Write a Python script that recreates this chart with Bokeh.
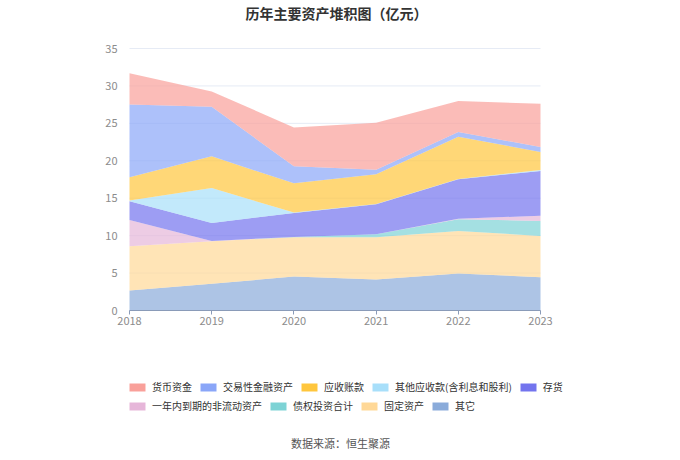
from bokeh.plotting import figure
from bokeh.models import ColumnDataSource, Legend, LegendItem, FixedTicker, Range1d, Label
from bokeh.embed import file_html
from bokeh.resources import INLINE

years = [2018, 2019, 2020, 2021, 2022, 2023]
y_ticks = [0, 5, 10, 15, 20, 25, 30, 35]
names = ["货币资金", "交易性金融资产", "应收账款", "其他应收款(含利息和股利)", "存货",
         "一年内到期的非流动资产", "债权投资合计", "固定资产", "其它"]
colors = ["#F9A09A", "#8AA6F8", "#FFC63D", "#A8DFFA", "#7374EE",
          "#E6B6D9", "#7DD3D5", "#FFD897", "#8AABDA"]

huobi = [4.18, 2.04, 5.20, 6.27, 4.13, 5.78]
jiaoyi = [9.74, 6.63, 2.27, 0.62, 0.63, 0.67]
yingshou = [3.10, 4.22, 3.91, 3.95, 5.64, 2.39]
qitayingshou = [0.10, 4.67, 0.05, 0.05, 0.05, 0.15]
cunhuo = [2.49, 2.40, 3.20, 3.99, 5.28, 5.96]
yinian = [3.52, 0.05, 0.00, 0.02, 0.05, 0.71]
zhaiquan = [0.00, 0.00, 0.05, 0.40, 1.56, 2.00]
guding = [5.91, 5.69, 5.24, 5.64, 5.69, 5.51]
qita = [2.67, 3.56, 4.54, 4.14, 4.94, 4.45]

series = [huobi, jiaoyi, yingshou, qitayingshou, cunhuo, yinian, zhaiquan, guding, qita]
keys = ["s%d" % i for i in range(len(series))]

title_text = "历年主要资产堆积图（亿元）"
source_text = "数据来源：恒生聚源"

data = {"x": years, "zero": [0] * len(years)}
for k, s in zip(keys, series):
    data[k] = s
source = ColumnDataSource(data)

FONT = "Noto Sans CJK SC"
W, H = 680, 460
# plot-area placement in pixels (layout only)
L, R, T, B = 129, 540, 48, 310
x_lo, x_hi = years[0], years[-1]
y_lo, y_hi = y_ticks[0], y_ticks[-1]
xs = (x_hi - x_lo) / (R - L)
ys = (y_hi - y_lo) / (B - T)
x_range = Range1d(x_lo - L * xs, x_hi + (W - R) * xs)
y_range = Range1d(y_lo - (H - B) * ys, y_hi + T * ys)

def xd(px):
    return x_range.start + px * xs

def yd(py):
    return y_range.end - py * ys

p = figure(width=W, height=H, output_backend="svg", toolbar_location=None,
           x_range=x_range, y_range=y_range,
           min_border=0, min_border_left=0, min_border_right=0, min_border_top=0, min_border_bottom=0)
p.outline_line_color = None
p.background_fill_color = "white"
p.border_fill_color = "white"
p.xgrid.visible = False
p.ygrid.visible = False

# horizontal grid lines at the y ticks, spanning the year range
grid_src = ColumnDataSource({"y": y_ticks[1:], "x0": [x_lo] * (len(y_ticks) - 1),
                             "x1": [x_hi] * (len(y_ticks) - 1)})
p.segment(x0="x0", x1="x1", y0="y", y1="y", source=grid_src, line_color="#E6EBF5", line_width=1)

order = list(range(len(series)))[::-1]
stack_keys = [keys[i] for i in order]
stack_colors = [colors[i] for i in order]
p.varea_stack(stack_keys, x="x", source=source, color=stack_colors, fill_alpha=0.7)

xa = p.xaxis[0]
xa.fixed_location = 0
xa.bounds = (x_lo, x_hi)
xa.ticker = FixedTicker(ticks=years)
xa.axis_line_color = "#8A9BB8"
xa.major_tick_line_color = "#8A9BB8"
xa.major_tick_out = 4
xa.major_tick_in = 0
xa.minor_tick_line_color = None
xa.major_label_standoff = 2
xa.major_label_text_color = "#8C8C8C"
xa.major_label_text_font_size = "11px"
xa.major_label_text_font = FONT

ya = p.yaxis[0]
ya.fixed_location = x_lo
ya.bounds = (y_lo, y_hi)
ya.ticker = FixedTicker(ticks=y_ticks)
ya.axis_line_color = None
ya.major_tick_line_color = None
ya.minor_tick_line_color = None
ya.major_label_text_color = "#8C8C8C"
ya.major_label_text_font_size = "11px"
ya.major_label_text_font = FONT
ya.major_label_standoff = 6

# legend proxies: zero-height areas carrying the full legend colour
items = []
for n, c in zip(names, colors):
    r = p.varea(x="x", y1="zero", y2="zero", source=source, fill_color=c, fill_alpha=1.0)
    items.append(LegendItem(label=n, renderers=[r]))

def mk_legend(its, loc):
    return Legend(items=its, orientation="horizontal", location=loc,
                  label_text_font=FONT, label_text_font_size="10px", label_text_color="#333333",
                  glyph_width=20, glyph_height=10, label_height=12, spacing=6, label_standoff=5,
                  padding=0, margin=0, border_line_color=None, background_fill_alpha=0)

p.add_layout(mk_legend(items[:5], (127, H - 394)), "center")
p.add_layout(mk_legend(items[5:], (127, H - 413)), "center")

p.add_layout(Label(x=xd(336), y=yd(12), text=title_text, text_align="center", text_baseline="middle",
                   text_font=FONT, text_font_size="14px", text_font_style="bold", text_color="#333333"))
p.add_layout(Label(x=xd(340), y=yd(442), text=source_text, text_align="center", text_baseline="middle",
                   text_font=FONT, text_font_size="11px", text_color="#555555"))

open("out.html", "w").write(file_html(p, INLINE))
